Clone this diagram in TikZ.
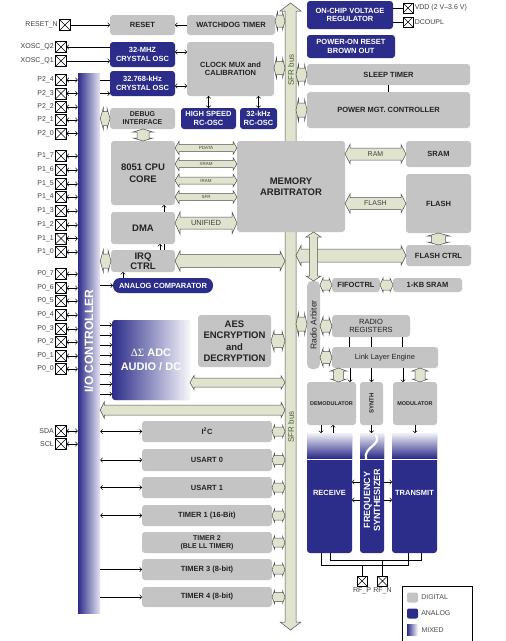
\documentclass[tikz,border=0pt]{standalone}
\usepackage{fontspec}
\setmainfont{Liberation Sans}
\newfontfamily\greekfont{Liberation Serif}
\usepackage{tikz}
\usetikzlibrary{calc,arrows.meta}
\definecolor{chipgray}{RGB}{196,196,196}
\definecolor{chipblue}{RGB}{44,44,138}
\definecolor{busfill}{RGB}{224,228,207}
\definecolor{busedge}{RGB}{80,80,80}
\definecolor{chiptext}{RGB}{35,35,35}
\definecolor{sfrgreen}{RGB}{72,92,48}

% fat double arrows for the buses: from, to, shaft half, head half, head length
\newcommand{\busH}[6]{%
  \filldraw[bus] let \p1=#1, \p2=#2 in
    (\x1,\y1) -- (\x1+#5,\y1+#4) -- (\x1+#5,\y1+#3) -- (\x2-#5,\y1+#3) -- (\x2-#5,\y1+#4) -- (\x2,\y1)
    -- (\x2-#5,\y1-#4) -- (\x2-#5,\y1-#3) -- (\x1+#5,\y1-#3) -- (\x1+#5,\y1-#4) -- cycle
    (\x1/2+\x2/2,\y1) node[buslabel] {#6};}
\newcommand{\busV}[5]{%
  \filldraw[bus] let \p1=#1, \p2=#2 in
    (\x2,\y1) -- (\x2+#4,\y1-#5) -- (\x2+#3,\y1-#5) -- (\x2+#3,\y2+#5) -- (\x2+#4,\y2+#5) -- (\x2,\y2)
    -- (\x2-#4,\y2+#5) -- (\x2-#3,\y2+#5) -- (\x2-#3,\y1-#5) -- (\x2-#4,\y1-#5) -- cycle;}

\begin{document}
\begin{tikzpicture}[x=1pt,y=-1pt,line width=0.5pt,
  >={Straight Barb[length=2pt,width=4.5pt]},
  sz/.style 2 args={minimum width=#1pt,minimum height=#2pt},
  dig/.style={fill=chipgray,rounded corners=3pt,inner sep=0pt,outer sep=0pt,align=center,
    text=chiptext,font=\bfseries\fontsize{7.5}{8.5}\selectfont},
  ana/.style={dig,fill=chipblue,text=white},
  big/.style={font=\bfseries\fontsize{9.5}{11.5}\selectfont},
  small/.style={font=\bfseries\fontsize{5.5}{6.5}\selectfont},
  pin/.style={draw,line width=0.6pt,minimum size=11pt,inner sep=0pt,outer sep=0pt,fill=white,
    path picture={\draw[line width=0.5pt] (path picture bounding box.north west) -- (path picture bounding box.south east)
      (path picture bounding box.north east) -- (path picture bounding box.south west);}},
  pinlabel/.style={anchor=east,inner sep=1.5pt,text=black!75,font=\fontsize{7}{8}\selectfont},
  bus/.style={fill=busfill,draw=busedge,line width=0.5pt},
  buslabel/.style={inner sep=0pt,text=black!75,font=\fontsize{4.5}{5}\selectfont},
  sfrlabel/.style={rotate=90,text=sfrgreen,font=\fontsize{8}{8}\selectfont}]

\useasboundingbox (0,0) rectangle (506,641);
\fill[white] (0,0) rectangle (506,641);

% I/O controller
\node[inner sep=0pt,sz={22}{540},left color=chipblue,middle color=chipblue!72!white,right color=chipblue!12!white] (io) at (89,343) {};
\node[rotate=90,text=white,font=\bfseries\fontsize{12}{12}\selectfont] at (89,341) {I/O CONTROLLER};

% SFR bus
\coordinate (sfrtop) at (290.5,3);
\coordinate (sfrbot) at (290.5,630);
\coordinate (sfrL) at (285,0);
\coordinate (sfrR) at (296,0);
\busV{(sfrtop)}{(sfrbot)}{5.5pt}{10.5pt}{8pt}
\node[sfrlabel] at (291,70) {SFR bus};
\node[sfrlabel] at (291,427) {SFR bus};

% left column
\node[dig,sz={65}{20}] (reset) at (142.5,25) {RESET};
\node[dig,sz={88}{20}] (wdt) at (231,25) {WATCHDOG TIMER};
\node[ana,sz={65}{25}] (osc32m) at (142.5,54.5) {32-MHZ\\CRYSTAL OSC};
\node[ana,sz={65}{25}] (osc32k) at (142.5,83.5) {32.768-kHz\\CRYSTAL OSC};
\node[dig,sz={87}{54}] (clkmux) at (230.5,69) {CLOCK MUX and\\CALIBRATION};
\node[dig,sz={65}{21},font=\bfseries\fontsize{7}{8}\selectfont] (debug) at (142.5,118.5) {DEBUG\\INTERFACE};
\node[ana,sz={55}{21}] (hsrc) at (208.5,118.5) {HIGH SPEED\\RC-OSC};
\node[ana,sz={37}{21}] (lsrc) at (258.5,118.5) {32-kHz\\RC-OSC};
\node[dig,big,sz={64}{64}] (cpu) at (143,173) {8051 CPU\\CORE};
\node[dig,big,sz={64}{32}] (dma) at (143,228) {DMA};
\node[dig,big,sz={64}{22},font=\bfseries\fontsize{9.5}{10.5}\selectfont] (irq) at (143,261) {IRQ\\CTRL};
\node[ana,sz={100}{15},rounded corners=7pt] (acomp) at (163,285.5) {ANALOG COMPARATOR};
\node[dig,big,sz={108}{91}] (mem) at (291,186.5) {MEMORY\\ARBITRATOR};
\node[dig,sz={78}{80},left color=chipblue,middle color=chipblue!72!white,right color=chipblue!4!white,
  text=white,font=\bfseries\fontsize{11}{14}\selectfont] (adc) at (151,360) {{\greekfont\mdseries ΔΣ} ADC\\AUDIO / DC};
\node[dig,big,sz={73}{52}] (aes) at (234.5,341) {AES\\ENCRYPTION\\and\\DECRYPTION};
\node[dig,sz={130}{21}] (i2c) at (207,431.5) {I\textsuperscript{2}C};
\node[dig,sz={130}{22}] (usart0) at (207,460) {USART 0};
\node[dig,sz={130}{21}] (usart1) at (207,487.5) {USART 1};
\node[dig,sz={130}{21}] (timer1) at (207,515.5) {TIMER 1 (16-Bit)};
\node[dig,sz={130}{21},font=\bfseries\fontsize{7}{8}\selectfont] (timer2) at (207,542.5) {TIMER 2\\(BLE LL TIMER)};
\node[dig,sz={130}{21}] (timer3) at (207,569.5) {TIMER 3 (8-bit)};
\node[dig,sz={130}{20}] (timer4) at (207,597) {TIMER 4 (8-bit)};

% right column
\node[ana,sz={86}{28}] (vreg) at (350,15) {ON-CHIP VOLTAGE\\REGULATOR};
\node[ana,sz={88}{23}] (por) at (351,46.5) {POWER-ON RESET\\BROWN OUT};
\node[dig,sz={163}{21}] (sleep) at (388.5,74.5) {SLEEP TIMER};
\node[dig,sz={163}{36}] (pmc) at (388.5,110) {POWER MGT. CONTROLLER};
\node[dig,sz={65}{26}] (sram) at (438.5,154) {SRAM};
\node[dig,sz={65}{59}] (flash) at (438.5,203.5) {FLASH};
\node[dig,sz={65}{21}] (flashctrl) at (438.5,255.5) {FLASH CTRL};
\node[dig,sz={13}{88},rounded corners=5pt] (radarb) at (313.5,325) {};
\node[rotate=90,text=chiptext,font=\fontsize{8.5}{9}\selectfont] at (radarb) {Radio Arbiter};
\node[dig,sz={48}{14}] (fifo) at (356,285) {FIFOCTRL};
\node[dig,sz={69}{14}] (kbsram) at (427.5,285) {1-KB SRAM};
\node[dig,sz={78}{22},font=\fontsize{7.5}{8.5}\selectfont] (radreg) at (371,326) {RADIO\\REGISTERS};
\node[dig,sz={106}{21},font=\fontsize{7.5}{8.5}\selectfont] (lle) at (385,357.5) {Link Layer Engine};
\node[dig,small,sz={49}{43}] (demod) at (331.5,403.5) {DEMODULATOR};
\node[dig,sz={23}{43}] (synth) at (371.5,403.5) {};
\node[rotate=90,text=chiptext,font=\bfseries\fontsize{6}{7}\selectfont] at (synth) {SYNTH};
\node[dig,small,sz={44}{43}] (mod) at (415,403.5) {MODULATOR};
\node[ana,sz={45}{120}] (rx) at (329.5,493) {RECEIVE};
\node[ana,sz={24}{120}] (fs) at (372,493) {};
\node[ana,sz={45}{120}] (tx) at (414.5,493) {TRANSMIT};
\foreach \blk in {rx,fs,tx} {
  \shade[top color=chipblue!6!white,bottom color=chipblue] (\blk.north west) rectangle (\blk.east |- 0,458);
  \draw[white,line width=0.7pt] (\blk.west |- 0,459) -- (\blk.east |- 0,459);
}
\draw[white,line width=2.2pt] (376,435) .. controls (382,445) and (363,447) .. (366,459);
\node[rotate=90,text=white,align=center,font=\bfseries\fontsize{9}{10}\selectfont] at (372,500) {FREQUENCY\\SYNTHESIZER};

% pins
\node[pin] (rstpin) at (65,25) {};
\node[pinlabel] at (rstpin.west) {RESET\_N};
\node[pin] (xq2) at (61,47) {};
\node[pinlabel] at (xq2.west) {XOSC\_Q2};
\node[pin] (xq1) at (61,61) {};
\node[pinlabel] at (xq1.west) {XOSC\_Q1};
\foreach \nm/\txt/\y in {p24/P2\_4/80,p23/P2\_3/93.5,p22/P2\_2/107,p21/P2\_1/120,p20/P2\_0/133.5,
    p17/P1\_7/156,p16/P1\_6/170,p15/P1\_5/184,p14/P1\_4/197,p13/P1\_3/211,p12/P1\_2/225,p11/P1\_1/238.5,p10/P1\_0/252,
    p07/P0\_7/274,p06/P0\_6/288,p05/P0\_5/301,p04/P0\_4/315,p03/P0\_3/329,p02/P0\_2/342,p01/P0\_1/356,p00/P0\_0/369,
    sda/SDA/431,scl/SCL/444} {
  \node[pin] (\nm) at (61,\y) {};
  \node[pinlabel] at (\nm.west) {\txt};
  \draw[<->] (\nm) -- (\nm -| io.west);
}
\node[pin,minimum size=10pt] (vdd) at (408,8) {};
\node[pinlabel,anchor=west] at (vdd.east) {VDD (2 V–3.6 V)};
\node[pin,minimum size=10pt] (dcpl) at (408,22) {};
\node[pinlabel,anchor=west] at (dcpl.east) {DCOUPL};
\node[pin,minimum size=10pt] (rfp) at (362,581) {};
\node[pinlabel,anchor=north] at (rfp.south) {RF\_P};
\node[pin,minimum size=10pt] (rfn) at (382.5,581) {};
\node[pinlabel,anchor=north] at (rfn.south) {RF\_N};

% bus connections
\busH{(io.east |- debug)}{(debug.west)}{7pt}{10.5pt}{3pt}{}
\busH{(io.east |- irq)}{(irq.west)}{7pt}{11pt}{3pt}{}
\busV{(debug.south)}{(cpu.north)}{6pt}{10pt}{3pt}
\busH{(cpu.east |- 0,148)}{(mem.west)}{3.5pt}{6.5pt}{4pt}{PDATA}
\busH{(cpu.east |- 0,164)}{(mem.west)}{3.5pt}{6.5pt}{4pt}{XRAM}
\busH{(cpu.east |- 0,180.5)}{(mem.west)}{3.5pt}{6.5pt}{4pt}{IRAM}
\busH{(cpu.east |- 0,197)}{(mem.west)}{3.5pt}{6.5pt}{4pt}{SFR}
\busH{(dma.east |- 0,223)}{(mem.west)}{6pt}{11pt}{5pt}{\fontsize{7.5}{8}\selectfont UNIFIED}
\busH{(irq.east)}{(sfrL)}{6.5pt}{10pt}{5pt}{}
\busH{(mem.east |- sram)}{(sram.west)}{6pt}{9.5pt}{5pt}{\fontsize{7}{8}\selectfont RAM}
\busH{(mem.east |- flash)}{(flash.west)}{6pt}{9.5pt}{5pt}{\fontsize{7}{8}\selectfont FLASH}
\busV{(flash.south)}{(flashctrl.north)}{7pt}{11pt}{3pt}
\busH{(sfrR |- flashctrl)}{(flashctrl.west)}{6.5pt}{10pt}{5pt}{}
\busV{(mem.south)}{(radarb.north)}{4pt}{7.5pt}{5pt}
\busH{(wdt.east |- 0,21)}{(sfrL)}{6pt}{9pt}{2.5pt}{}
\busH{(clkmux.east |- 0,68)}{(sfrL)}{6.5pt}{10pt}{2.5pt}{}
\busH{(sfrR |- sleep)}{(sleep.west)}{6.5pt}{10pt}{2.5pt}{}
\busH{(sfrR |- pmc)}{(pmc.west)}{7pt}{11pt}{2.5pt}{}
\busH{(aes.east)}{(sfrL)}{6.5pt}{10pt}{3pt}{}
\busH{(adc.east |- 0,382.5)}{(sfrL)}{4.5pt}{7pt}{4pt}{}
\busH{(io.east |- 0,410)}{(sfrL)}{5pt}{8pt}{4pt}{}
\foreach \per in {i2c,usart0,usart1,timer1,timer2,timer3,timer4}
  \busH{(\per.east)}{(sfrL)}{4.5pt}{6.5pt}{2.5pt}{};
\busH{(sfrR |- 0,324)}{(radarb.west)}{7pt}{11pt}{2.5pt}{}
\busH{(radarb.east |- fifo)}{(fifo.west)}{5pt}{7pt}{3pt}{}
\busH{(fifo.east)}{(kbsram.west)}{5pt}{7pt}{3pt}{}
\busH{(radarb.east |- radreg)}{(radreg.west)}{6pt}{9pt}{3pt}{}
\busH{(radarb.east |- lle)}{(lle.west)}{6pt}{9pt}{3pt}{}
\busV{(lle.south)}{(demod.north -| 338.5,0)}{5pt}{8pt}{3pt}
\busV{(lle.south)}{(mod.north -| 420,0)}{5pt}{8pt}{3pt}

% signal lines
\draw[->] (rstpin) -- (reset);
\draw[->] (wdt) -- (reset);
\draw[->] (osc32m.west |- xq2) -- (xq2);
\draw[->] (xq1) -- (osc32m.west |- xq1);
\draw (io.east |- p24) -- (osc32k.west |- p24);
\draw[->] (io.east |- p23) -- (osc32k.west |- p23);
\draw[<->] (osc32m.east |- 0,52) -- (clkmux.west |- 0,52);
\draw[<->] (osc32k.east |- 0,86) -- (clkmux.west |- 0,86);
\draw[<->] (clkmux.south -| hsrc) -- (hsrc);
\draw[<->] (clkmux.south -| lsrc) -- (lsrc);
\draw[->] (io.east |- acomp) -- (acomp);
\draw[->] (acomp.north -| 123,0) -- (irq.south -| 123,0);
\draw[->] (irq.north -| 160,0) -- (dma.south -| 160,0);
\draw (irq.north -| 164,0) -- (dma.south -| 164,0);
\draw[->] (dma.north -| 164,0) -- (cpu.south -| 164,0);
\foreach \y in {325,335,345,355,364,374,384,394}
  \draw[->] (io.east |- 0,\y) -- (adc.west |- 0,\y);
\foreach \per in {i2c,usart0,usart1,timer1}
  \draw[<->] (io.east |- \per) -- (\per);
\foreach \per in {timer3,timer4}
  \draw[->] (io.east |- \per) -- (\per);
\draw (vreg.east |- vdd) -- (vdd);
\draw (vreg.east |- dcpl) -- (dcpl);
\draw (sleep.south) -- (pmc.north);
\foreach \x in {349,371,402}
  \draw (radreg.south -| \x,0) -- (lle.north -| \x,0);
\draw[->] (lle.south -| 350,0) -- (demod.north -| 350,0);
\draw[->] (lle.south -| synth) -- (synth);
\draw[->] (lle.south -| 403,0) -- (mod.north -| 403,0);
\draw[->] (demod.south -| 321,0) -- (rx.north -| 321,0);
\draw[->] (rx.north -| 333,0) -- (demod.south -| 333,0);
\draw[->] (synth.south) -- (fs.north -| synth.south);
\draw[->] (mod.south -| 415,0) -- (tx.north -| 415,0);
\foreach \y in {482,500} {
  \draw[->] (fs.west |- 0,\y) -- (rx.east |- 0,\y);
  \draw[->] (fs.east |- 0,\y) -- (tx.west |- 0,\y);
}
\draw (rx.south -| 321,0) -- ++(0,12) -| (tx.south -| 408,0);
\draw (rx.south -| 330,0) -- ++(0,7) -| (tx.south -| 421,0);
\draw (rfp) -- (rfp |- 0,565);
\draw (rfn) -- (rfn |- 0,560);

% legend
\draw[line width=0.8pt] (402,586) rectangle (472,645);
\node[dig,sz={11}{10},rounded corners=2pt] (lgdig) at (412.5,597.5) {};
\node[anchor=west,inner sep=3pt,text=black!70,font=\fontsize{7}{8}\selectfont] at (lgdig.east) {DIGITAL};
\node[dig,sz={11}{10},rounded corners=2pt,fill=chipblue] (lgana) at (412.5,613.5) {};
\node[anchor=west,inner sep=3pt,text=black!70,font=\fontsize{7}{8}\selectfont] at (lgana.east) {ANALOG};
\node[inner sep=0pt,sz={11}{11},left color=chipblue,right color=white] (lgmix) at (412.5,630) {};
\node[anchor=west,inner sep=3pt,text=black!70,font=\fontsize{7}{8}\selectfont] at (lgmix.east) {MIXED};
\end{tikzpicture}
\end{document}
